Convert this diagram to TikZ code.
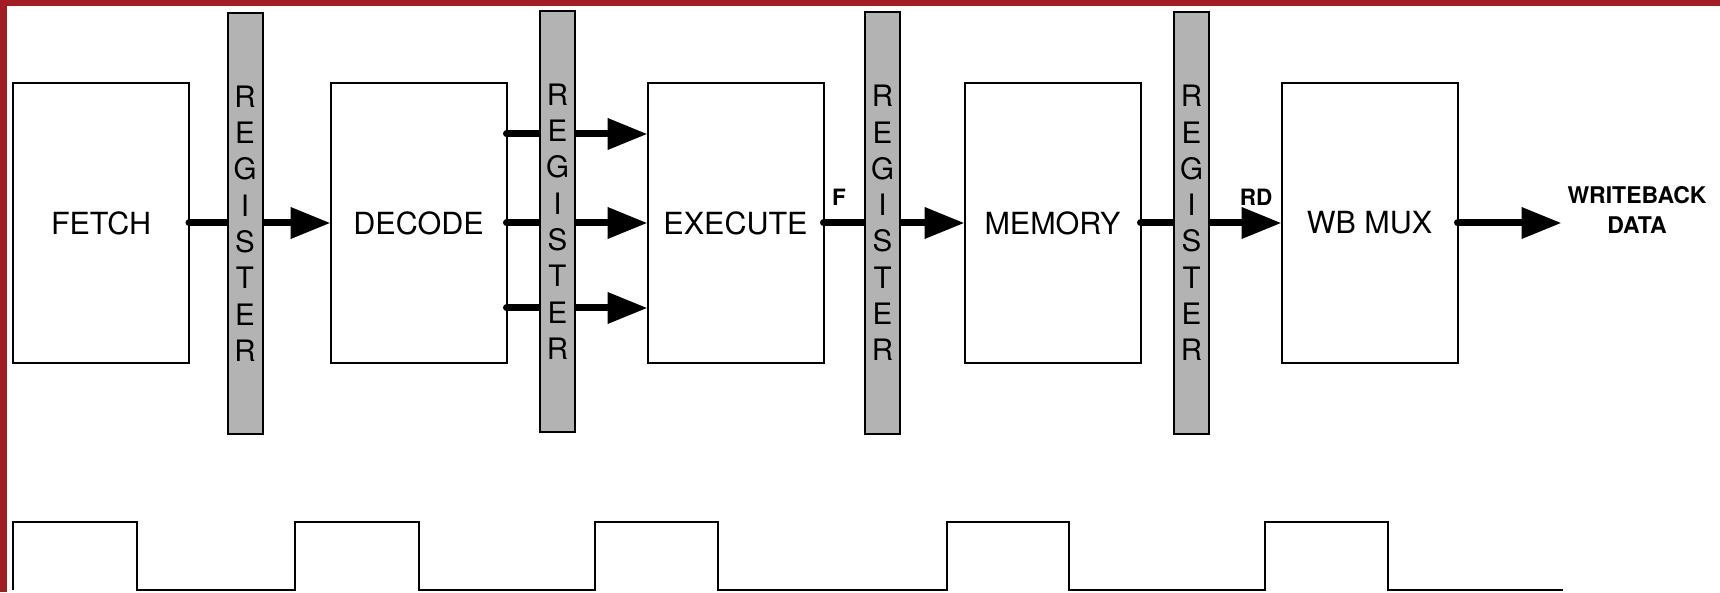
\documentclass[tikz,border=0pt]{standalone}
\usepackage{fontspec}
\setmainfont{TeX Gyre Heros}
\usetikzlibrary{arrows.meta}
\definecolor{borderred}{RGB}{161,28,35}
\definecolor{reggray}{RGB}{179,179,179}
\begin{document}
\begin{tikzpicture}[x=1pt,y=1pt,
  stage/.style={draw,line width=2pt,minimum width=176pt,minimum height=280pt,inner sep=0pt,outer sep=0pt,font=\fontsize{30.5}{36}\selectfont},
  regbox/.style={draw,line width=2pt,fill=reggray,minimum width=35pt,minimum height=421pt,inner sep=0pt,outer sep=0pt,align=center,font=\fontsize{29.5}{36.3}\selectfont},
  bus/.style={line width=7pt,line cap=round,-{Triangle[length=40pt,width=30pt]}},
  lbl/.style={font=\bfseries\fontsize{22.5}{30}\selectfont,inner sep=0pt},
  clk/.style={line width=2pt,line join=miter}]
\useasboundingbox (0,0) rectangle (1720,592);
\fill[white] (0,0) rectangle (1720,592);
\fill[borderred] (0,586) rectangle (1720,592);
\fill[borderred] (0,0) rectangle (7,592);

% stages
\node[stage] (fetch) at (101,369) {FETCH};
\node[stage] (decode) at (418.5,369) {DECODE};
\node[stage] (execute) at (735.5,369) {EXECUTE};
\node[stage] (memory) at (1052.5,369) {MEMORY};
\node[stage] (wbmux) at (1369.5,369) {WB MUX};

% buses
\draw[bus] (fetch.east) -- (decode.west);
\draw[bus] ([yshift=89pt]decode.east) -- ([yshift=89pt]execute.west);
\draw[bus] (decode.east) -- (execute.west);
\draw[bus] ([yshift=-85pt]decode.east) -- ([yshift=-85pt]execute.west);
\draw[bus] (execute.east) -- (memory.west);
\draw[bus] (memory.east) -- (wbmux.west);
\coordinate (wbend) at ([xshift=104pt]wbmux.east);
\draw[bus] (wbmux.east) -- (wbend);

% pipeline registers
\node[regbox] (r1) at (245,368.5) {R\\E\\G\\I\\S\\T\\E\\R};
\node[regbox] (r2) at (557.5,370.5) {R\\E\\G\\I\\S\\T\\E\\R};
\node[regbox] (r3) at (882.5,369) {R\\E\\G\\I\\S\\T\\E\\R};
\node[regbox] (r4) at (1191.5,369) {R\\E\\G\\I\\S\\T\\E\\R};

% labels
\node[lbl] (flbl) at (839,395) {F};
\node[lbl] (rdlbl) at (1256,395) {RD};
\node[lbl,align=center,font=\bfseries\fontsize{23}{30}\selectfont] (wbdata) at (1637,382) {WRITEBACK\\DATA};

% clock
\draw[clk] (13,2) -- (13,70) -- (137,70) -- (137,2) -- (295,2) -- (295,70) -- (419,70) -- (419,2)
  -- (595,2) -- (595,70) -- (718,70) -- (718,2) -- (947,2) -- (947,70) -- (1069,70) -- (1069,2)
  -- (1265,2) -- (1265,70) -- (1388,70) -- (1388,2) -- (1563,2);
\end{tikzpicture}
\end{document}
